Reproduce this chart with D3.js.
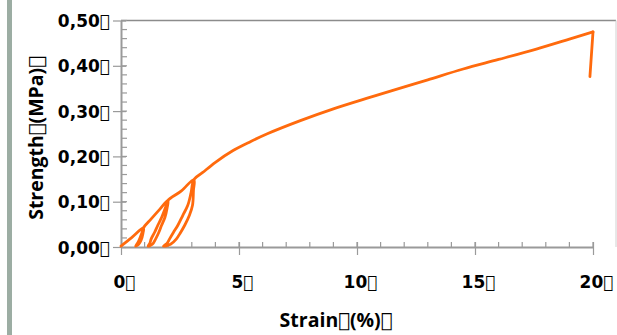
<!DOCTYPE html>
<html>
<head>
<meta charset="utf-8">
<script src="https://cdn.jsdelivr.net/npm/d3@7"></script>
<style>
  body { margin: 0; background: #fff; }
  text { font-weight: bold; fill: #000; }
</style>
</head>
<body>
<div id="chart"></div>
<script>
// strain (%) and strength (MPa), in recording order
// (three load/unload cycles, then loading to failure; last point is the break)
const strain = [0, 0.44, 0.95,
  0.93, 0.85, 0.75, 0.62, 0.72, 0.82, 0.9, 0.95,
  1.28, 1.64, 1.99,
  1.95, 1.86, 1.72, 1.6, 1.47, 1.33, 1.15, 1.22, 1.28, 1.42, 1.56, 1.72, 1.85, 1.95, 1.99,
  2.56, 3.09,
  3.07, 3.03, 2.9, 2.7, 2.5, 2.35, 2.1, 1.8, 1.95, 2.06, 2.22, 2.41, 2.62, 2.83, 2.97, 3.09,
  3.45, 4.0, 4.75, 5.5, 6.2, 7.6, 9.0, 10.4, 11.8, 13.0, 14.5, 16.0, 17.6, 19.0, 20.0, 19.87];
const stress = [0.002, 0.02, 0.042,
  0.03, 0.015, 0.006, 0.002, 0.01, 0.022, 0.033, 0.042,
  0.062, 0.083, 0.103,
  0.085, 0.065, 0.048, 0.032, 0.018, 0.006, 0.002, 0.008, 0.018, 0.032, 0.048, 0.065, 0.082, 0.097, 0.103,
  0.124, 0.149,
  0.125, 0.092, 0.07, 0.048, 0.03, 0.018, 0.006, 0.002, 0.008, 0.018, 0.032, 0.048, 0.07, 0.092, 0.12, 0.149,
  0.164, 0.187, 0.213, 0.233, 0.25, 0.279, 0.305, 0.328, 0.35, 0.369, 0.393, 0.414, 0.437, 0.459, 0.475, 0.376];

const xTicks = [0, 5, 10, 15, 20];
const yTicks = [0, 0.1, 0.2, 0.3, 0.4, 0.5];
const yLabels = ['0,00', '0,10', '0,20', '0,30', '0,40', '0,50'];
const box = '\uE000';

const width = 617, height = 335;
const svg = d3.select('#chart').append('svg')
  .attr('width', width).attr('height', height);

// grey strip on the left edge
svg.append('rect').attr('x', 7).attr('y', 0).attr('width', 5).attr('height', height)
  .attr('fill', '#9cada3');

const x = d3.scaleLinear().domain([0, 20]).range([121, 593]);
const y = d3.scaleLinear().domain([0, 0.5]).range([247, 20.5]);

// frame: top and right
svg.append('line').attr('x1', 121).attr('x2', 616).attr('y1', y(0.5)).attr('y2', y(0.5))
  .attr('stroke', '#8c8c8c').attr('stroke-width', 1.5);
svg.append('line').attr('x1', 616).attr('x2', 616).attr('y1', y(0.5)).attr('y2', y(0))
  .attr('stroke', '#d0d0d0').attr('stroke-width', 1);

// minor ticks, inside
const gMinor = svg.append('g').attr('stroke', '#9a9a9a').attr('stroke-width', 1.2);
gMinor.selectAll('.mx').data(d3.range(1, 21)).enter().append('line')
  .attr('x1', d => x(d)).attr('x2', d => x(d)).attr('y1', y(0) - 5).attr('y2', y(0));
gMinor.selectAll('.my').data(d3.range(1, 26).map(d => d * 0.02)).enter().append('line')
  .attr('x1', x(0)).attr('x2', x(0) + 6).attr('y1', d => y(d)).attr('y2', d => y(d));

// axes
const xAxis = svg.append('g').attr('transform', `translate(0,${y(0)})`)
  .call(d3.axisBottom(x).tickValues(xTicks).tickSizeInner(8).tickSizeOuter(0).tickFormat(d => d + box));
const yAxis = svg.append('g').attr('transform', `translate(${x(0)},0)`)
  .call(d3.axisLeft(y).tickValues(yTicks).tickSizeInner(8).tickSizeOuter(0).tickFormat((d, i) => yLabels[i] + box));

[xAxis, yAxis].forEach(g => {
  g.select('.domain').attr('stroke', '#9a9a9a').attr('stroke-width', 2);
  g.selectAll('.tick line').attr('stroke', '#9a9a9a').attr('stroke-width', 1.2);
  g.selectAll('.tick text').style('font-family', '"DejaVu Sans", sans-serif')
    .style('font-size', '17px').style('font-weight', 'bold').attr('fill', '#000');
});
xAxis.selectAll('.tick line').attr('y1', -5);
yAxis.selectAll('.tick line').attr('x2', 5).attr('x1', -8);
xAxis.selectAll('.tick text').attr('y', 28.5).attr('dy', '0.71em').attr('dx', 3);
yAxis.selectAll('.tick text').attr('x', -11).attr('dy', '0.36em');

// curve: smooth up to the peak, straight drop at the break
const pts = strain.map((s, i) => [s, stress[i]]);
const n = pts.length;
const line = d3.line().x(d => x(d[0])).y(d => y(d[1]));
svg.append('path').datum(pts.slice(0, n - 1))
  .attr('fill', 'none').attr('stroke', '#ff6a0d').attr('stroke-width', 2.8)
  .attr('stroke-linejoin', 'round').attr('stroke-linecap', 'round')
  .attr('d', line.curve(d3.curveCatmullRom.alpha(0.5)));
svg.append('path').datum(pts.slice(n - 2))
  .attr('fill', 'none').attr('stroke', '#ff6a0d').attr('stroke-width', 2.8)
  .attr('stroke-linecap', 'round')
  .attr('d', line.curve(d3.curveLinear));

// axis titles (the box glyph drawn with DejaVu so it shows like the original)
function title(sel, parts) {
  parts.forEach(p => {
    sel.append('tspan')
      .style('font-family', p === box ? '"DejaVu Sans", sans-serif' : '"Open Sans", sans-serif')
      .text(p);
  });
}
const xt = svg.append('text').attr('x', 336).attr('y', 327).attr('text-anchor', 'middle')
  .style('font-size', '19.5px');
title(xt, ['Strain', box, '(%)', box]);
const yt = svg.append('text').attr('transform', 'translate(43,138) rotate(-90)').attr('text-anchor', 'middle')
  .style('font-size', '19.5px');
title(yt, ['Strength', box, '(MPa)', box]);
</script>
</body>
</html>
